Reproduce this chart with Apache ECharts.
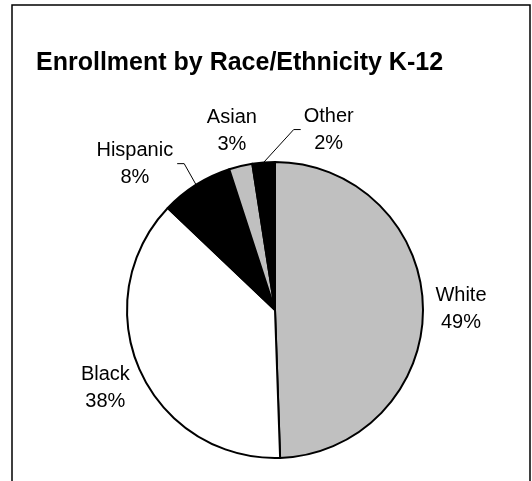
<!DOCTYPE html>
<html>
<head>
<meta charset="utf-8">
<script src="https://cdn.jsdelivr.net/npm/echarts@6/dist/echarts.min.js"></script>
<style>
  html, body { margin: 0; padding: 0; background: #fff; }
  #chart { width: 532px; height: 481px; }
</style>
</head>
<body>
<div id="chart"></div>
<script>
// ---- data ----
const titleText = 'Enrollment by Race/Ethnicity K-12';
const categories = ['White', 'Black', 'Hispanic', 'Asian', 'Other'];
const shares = [49.45, 37.65, 7.9, 2.55, 2.45];   // estimated shares (%), labels round to 49/38/8/3/2
const sliceColors = ['#C0C0C0', '#FFFFFF', '#000000', '#C0C0C0', '#000000'];

// ---- style / layout ----
const CX = 275, CY = 310, R = 148, LABEL_GAP = 38, LABEL_DY = 2;
const labelShift = { Hispanic: [-41, 9], Other: [68, 3] };   // moved labels get leader lines
const FONT = '"Liberation Sans", Arial, sans-serif';

const total = shares.reduce((a, b) => a + b, 0);
const midAngles = [];
{
  let acc = 0;
  shares.forEach(v => { midAngles.push((acc + v / 2) / total * Math.PI * 2); acc += v; });
}

const chart = echarts.init(document.getElementById('chart'), null, { renderer: 'canvas' });

chart.setOption({
  animation: false,
  backgroundColor: '#fff',
  graphic: [{
    type: 'rect',
    shape: { x: 12, y: 5, width: 518, height: 520 },
    style: { fill: 'none', stroke: '#000', lineWidth: 1.5 },
    silent: true
  }],
  title: {
    text: titleText,
    left: 36,
    top: 51,
    padding: 0,
    textStyle: { fontFamily: FONT, fontSize: 25, fontWeight: 'bold', color: '#000' }
  },
  series: [{
    type: 'pie',
    center: [CX, CY],
    radius: R,
    startAngle: 90,
    clockwise: true,
    avoidLabelOverlap: false,
    percentPrecision: 0,
    silent: true,
    itemStyle: { borderColor: '#000', borderWidth: 2 },
    label: {
      show: true,
      position: 'outside',
      formatter: '{b}\n{d}%',
      fontFamily: FONT,
      fontSize: 20,
      lineHeight: 27,
      color: '#000',
      align: 'center'
    },
    labelLine: { show: true, length: 10, length2: 10, lineStyle: { color: '#000', width: 1 } },
    data: categories.map((name, i) => ({
      name: name,
      value: shares[i],
      itemStyle: { color: sliceColors[i] },
      labelLine: { show: !!labelShift[name] }
    })),
    labelLayout: function (p) {
      const i = p.dataIndex;
      const name = categories[i];
      const a = midAngles[i];
      const sx = Math.sin(a), sy = -Math.cos(a);
      const off = labelShift[name] || [0, 0];
      const lx = CX + sx * (R + LABEL_GAP) + off[0];
      const ly = CY + sy * (R + LABEL_GAP) + off[1] + LABEL_DY;
      const res = { x: lx, y: ly, align: 'center', verticalAlign: 'middle' };
      if (labelShift[name]) {
        const ax = CX + sx * R, ay = CY + sy * R;
        const half = p.labelRect.width / 2;
        let endX, kneeX;
        if (lx < ax) { endX = lx + half + 4; kneeX = endX + 7; }
        else { endX = lx - half - 3; kneeX = endX - 7; }
        res.labelLinePoints = [[ax, ay], [kneeX, ly], [endX, ly]];
      }
      return res;
    }
  }]
});
</script>
</body>
</html>
